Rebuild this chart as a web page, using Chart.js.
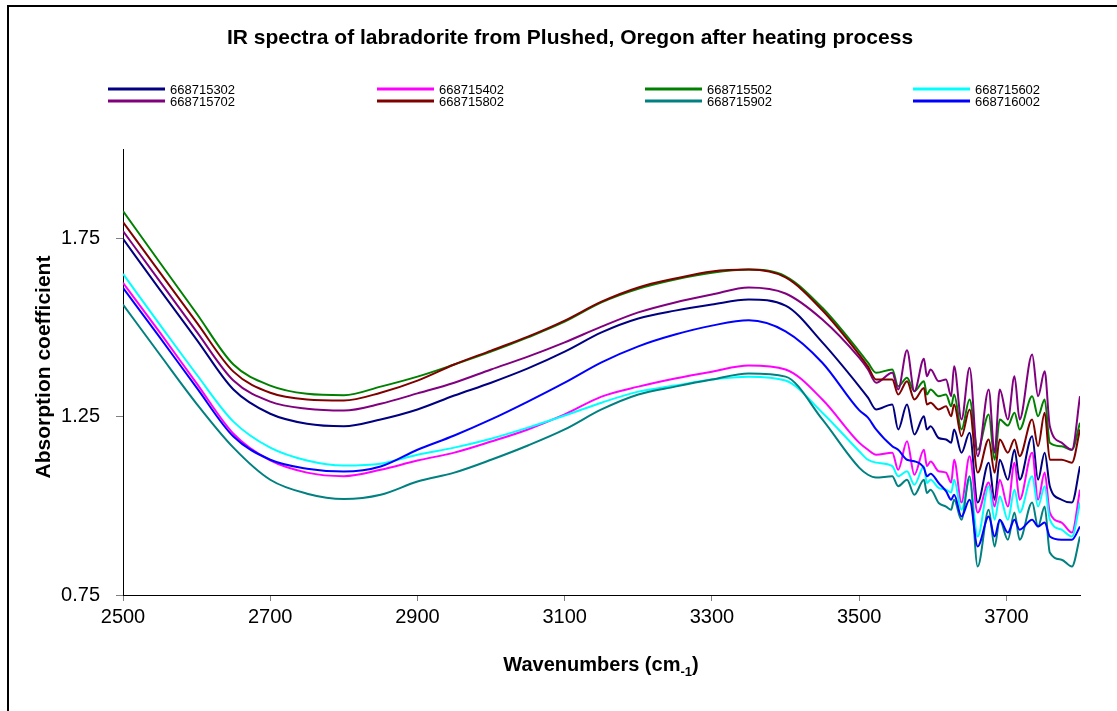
<!DOCTYPE html>
<html>
<head>
<meta charset="utf-8">
<script src="https://cdn.jsdelivr.net/npm/chart.js@4/dist/chart.umd.min.js"></script>
<style>
  html, body { margin: 0; padding: 0; background: #fff; }
  #wrap { position: relative; width: 1117px; height: 711px; }
</style>
</head>
<body>
<div id="wrap"><canvas id="spectra" width="1117" height="711"></canvas></div>
<script>
// wavenumber grid (cm-1); coarse on the broad band, finer over the sharp OH peaks
const wavenumbers = [2500, 2550, 2600, 2650, 2700, 2750, 2800, 2850, 2900, 2950,
  3000, 3050, 3100, 3150, 3200, 3250, 3300, 3350, 3400, 3450, 3500,
  3512, 3523, 3545, 3553, 3565, 3575, 3588, 3592, 3597, 3608, 3618, 3625, 3629,
  3639, 3650, 3661, 3676, 3684, 3691, 3702, 3711, 3718, 3735, 3743, 3752, 3759,
  3775, 3789, 3800];

const sampleNames = ['668715302', '668715402', '668715502', '668715602',
  '668715702', '668715802', '668715902', '668716002'];
const sampleColors = ['#000080', '#FF00FF', '#008000', '#00FFFF',
  '#800080', '#800000', '#008080', '#0000FF'];

const s668715302 = [1.748, 1.606, 1.466, 1.326, 1.258, 1.230, 1.223, 1.242, 1.270, 1.309,
  1.345, 1.385, 1.432, 1.486, 1.525, 1.547, 1.564, 1.578, 1.561, 1.458, 1.335,
  1.303, 1.270, 1.284, 1.214, 1.284, 1.200, 1.251, 1.214, 1.223, 1.190, 1.186, 1.177, 1.214,
  1.149, 1.205, 1.009, 1.121, 1.017, 1.129, 1.073, 1.157, 1.073, 1.195, 1.073, 1.149, 1.055,
  1.017, 1.009, 1.111];
const s668715402 = [1.625, 1.486, 1.343, 1.202, 1.127, 1.093, 1.083, 1.101, 1.127, 1.149,
  1.180, 1.214, 1.256, 1.306, 1.334, 1.357, 1.376, 1.393, 1.382, 1.298, 1.177,
  1.157, 1.143, 1.149, 1.101, 1.181, 1.087, 1.157, 1.111, 1.124, 1.097, 1.093, 1.065, 1.129,
  1.009, 1.139, 0.981, 1.065, 0.998, 1.073, 0.998, 1.121, 1.017, 1.149, 1.017, 1.093, 0.981,
  0.953, 0.925, 1.045];
const s668715502 = [1.826, 1.682, 1.539, 1.396, 1.337, 1.314, 1.310, 1.334, 1.362, 1.396,
  1.432, 1.472, 1.516, 1.570, 1.608, 1.634, 1.653, 1.662, 1.643, 1.555, 1.433,
  1.401, 1.373, 1.382, 1.335, 1.359, 1.321, 1.349, 1.312, 1.326, 1.307, 1.312, 1.279, 1.312,
  1.214, 1.298, 1.157, 1.256, 1.129, 1.242, 1.225, 1.261, 1.214, 1.307, 1.251, 1.298, 1.177,
  1.167, 1.157, 1.233];
const s668715602 = [1.650, 1.508, 1.368, 1.236, 1.163, 1.127, 1.113, 1.118, 1.143, 1.163,
  1.188, 1.219, 1.253, 1.289, 1.320, 1.337, 1.354, 1.362, 1.351, 1.261, 1.153,
  1.129, 1.121, 1.111, 1.083, 1.097, 1.059, 1.111, 1.064, 1.073, 1.050, 1.045, 1.037, 1.073,
  0.989, 1.073, 0.914, 1.055, 0.961, 1.027, 0.961, 1.045, 0.981, 1.083, 0.998, 1.055, 0.961,
  0.933, 0.914, 1.009];
const s668715702 = [1.770, 1.629, 1.488, 1.351, 1.292, 1.272, 1.267, 1.286, 1.315, 1.345,
  1.382, 1.418, 1.458, 1.502, 1.542, 1.570, 1.592, 1.612, 1.595, 1.522, 1.415,
  1.382, 1.345, 1.373, 1.326, 1.436, 1.321, 1.412, 1.363, 1.382, 1.349, 1.354, 1.307, 1.391,
  1.242, 1.387, 1.139, 1.326, 1.149, 1.326, 1.242, 1.363, 1.242, 1.424, 1.307, 1.377, 1.223,
  1.177, 1.157, 1.307];
const s668715802 = [1.795, 1.654, 1.514, 1.376, 1.317, 1.298, 1.295, 1.317, 1.351, 1.396,
  1.435, 1.474, 1.519, 1.572, 1.612, 1.637, 1.657, 1.662, 1.640, 1.548, 1.424,
  1.390, 1.354, 1.354, 1.312, 1.349, 1.298, 1.330, 1.284, 1.289, 1.270, 1.279, 1.251, 1.284,
  1.195, 1.270, 1.093, 1.186, 1.093, 1.186, 1.149, 1.186, 1.139, 1.242, 1.167, 1.261, 1.129,
  1.129, 1.121, 1.214];
const s668715902 = [1.564, 1.424, 1.286, 1.163, 1.073, 1.034, 1.019, 1.031, 1.068, 1.093,
  1.129, 1.169, 1.214, 1.270, 1.312, 1.334, 1.354, 1.371, 1.362, 1.242, 1.107,
  1.087, 1.079, 1.083, 1.055, 1.073, 1.031, 1.073, 1.036, 1.045, 1.008, 0.998, 0.989, 1.017,
  0.961, 1.083, 0.830, 0.989, 0.886, 0.961, 0.905, 0.981, 0.905, 1.009, 0.942, 0.998, 0.869,
  0.849, 0.830, 0.914];
const s668716002 = [1.611, 1.472, 1.331, 1.194, 1.129, 1.104, 1.096, 1.110, 1.157, 1.197,
  1.242, 1.292, 1.345, 1.402, 1.447, 1.480, 1.505, 1.520, 1.489, 1.401, 1.268,
  1.247, 1.214, 1.167, 1.157, 1.129, 1.125, 1.106, 1.083, 1.090, 1.064, 1.041, 1.017, 1.031,
  0.970, 1.017, 0.886, 0.970, 0.914, 0.961, 0.925, 0.961, 0.933, 0.961, 0.942, 0.953, 0.914,
  0.905, 0.905, 0.942];

const seriesValues = [s668715302, s668715402, s668715502, s668715602,
  s668715702, s668715802, s668715902, s668716002];

const xTicks = [2500, 2700, 2900, 3100, 3300, 3500, 3700];
const yTicks = [0.75, 1.25, 1.75];

const chartTitle = 'IR spectra of labradorite from Plushed, Oregon after heating process';
const yTitle = 'Absorption coefficient';

const FONT = '"Liberation Sans", Arial, Helvetica, sans-serif';

const datasets = seriesValues.map(function (vals, i) {
  return {
    label: sampleNames[i],
    data: wavenumbers.map(function (w, j) { return { x: w, y: vals[j] }; }),
    borderColor: sampleColors[i],
    backgroundColor: sampleColors[i],
    borderWidth: 2,
    pointRadius: 0,
    cubicInterpolationMode: 'monotone',
    order: sampleNames.length - i
  };
});

// title, legend grid, axis titles and the outer frame
const decorations = {
  id: 'decorations',
  afterDraw: function (chart) {
    const ctx = chart.ctx;
    ctx.save();

    ctx.fillStyle = '#000';
    ctx.fillRect(7, 5, 1117, 2);
    ctx.fillRect(7, 5, 2, 711);

    ctx.textBaseline = 'middle';
    ctx.textAlign = 'center';
    ctx.font = 'bold 21px ' + FONT;
    ctx.fillText(chartTitle, 570, 38);

    // legend: 4 columns x 2 rows
    const colX = [108, 377, 645, 913];
    const rowY = [89, 101];
    ctx.font = '13px ' + FONT;
    ctx.textAlign = 'left';
    sampleNames.forEach(function (name, i) {
      const x = colX[i % 4];
      const y = rowY[Math.floor(i / 4)];
      ctx.strokeStyle = sampleColors[i];
      ctx.lineWidth = 3;
      ctx.beginPath();
      ctx.moveTo(x, y);
      ctx.lineTo(x + 57, y);
      ctx.stroke();
      ctx.fillStyle = '#000';
      ctx.fillText(name, x + 62, y + 1);
    });

    // y axis title
    ctx.save();
    ctx.translate(44, 367);
    ctx.rotate(-Math.PI / 2);
    ctx.textAlign = 'center';
    ctx.font = 'bold 21px ' + FONT;
    ctx.fillText(yTitle, 0, 0);
    ctx.restore();

    // x axis title with subscript
    const main = 'Wavenumbers (cm';
    const sub = '-1';
    const close = ')';
    ctx.font = 'bold 20px ' + FONT;
    const wMain = ctx.measureText(main).width;
    const wClose = ctx.measureText(close).width;
    ctx.font = 'bold 13px ' + FONT;
    const wSub = ctx.measureText(sub).width;
    let x0 = 601 - (wMain + wSub + wClose) / 2;
    const yT = 665;
    ctx.textAlign = 'left';
    ctx.font = 'bold 20px ' + FONT;
    ctx.fillText(main, x0, yT);
    ctx.font = 'bold 13px ' + FONT;
    ctx.fillText(sub, x0 + wMain, yT + 7);
    ctx.font = 'bold 20px ' + FONT;
    ctx.fillText(close, x0 + wMain + wSub, yT);

    ctx.restore();
  }
};

new Chart(document.getElementById('spectra'), {
  type: 'line',
  data: { datasets: datasets },
  options: {
    responsive: false,
    animation: false,
    layout: { padding: { left: 0, top: 149, right: 37, bottom: 0 } },
    plugins: {
      legend: { display: false },
      title: { display: false },
      tooltip: { enabled: false }
    },
    scales: {
      x: {
        type: 'linear',
        min: 2500,
        max: 3800,
        afterBuildTicks: function (scale) {
          scale.ticks = xTicks.map(function (v) { return { value: v }; });
        },
        afterFit: function (scale) { scale.height = 116; },
        grid: { drawOnChartArea: false, drawTicks: true, tickLength: 6, color: '#808080' },
        border: { display: true, color: '#000', width: 1 },
        ticks: {
          color: '#000',
          padding: 4,
          maxRotation: 0,
          font: { family: FONT, size: 20 },
          callback: function (v) { return String(v); }
        }
      },
      y: {
        type: 'linear',
        min: 0.75,
        max: 2.0,
        afterBuildTicks: function (scale) {
          scale.ticks = yTicks.map(function (v) { return { value: v }; });
        },
        afterFit: function (scale) { scale.width = 123; },
        grid: { drawOnChartArea: false, drawTicks: true, tickLength: 7, color: '#808080' },
        border: { display: true, color: '#000', width: 1 },
        ticks: {
          color: '#000',
          padding: 16,
          font: { family: FONT, size: 20 },
          callback: function (v) { return v.toFixed(2); }
        }
      }
    }
  },
  plugins: [decorations]
});
</script>
</body>
</html>
